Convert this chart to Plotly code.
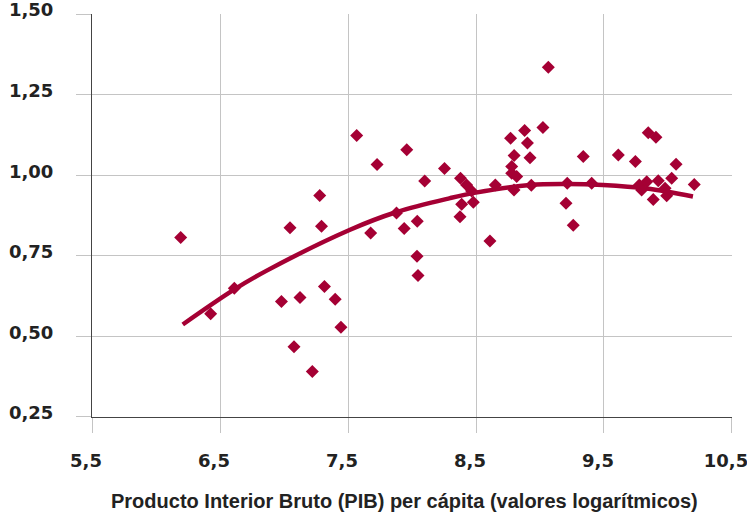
import plotly.graph_objects as go

# Scatter data: log GDP per capita (x) vs index (y)
pib_log = [6.193, 6.427, 6.612, 6.980, 7.047, 7.078, 7.125, 7.221, 7.279, 7.293,
           7.316, 7.400, 7.445, 7.568, 7.677, 7.727, 7.879, 7.939, 7.959, 8.041,
           8.039, 8.047, 8.099, 8.254, 8.379, 8.427, 8.466, 8.388, 8.479, 8.375,
           8.609, 8.651, 8.770, 8.880, 8.902, 9.023, 8.798, 8.922, 8.779, 8.779,
           8.818, 8.797, 8.932, 9.065, 9.213, 9.203, 9.260, 9.338, 9.404, 9.612,
           9.745, 9.846, 9.906, 10.063, 10.205, 9.776, 9.834, 9.924, 10.029, 9.885,
           9.990, 9.977, 9.794]
indice = [0.807, 0.570, 0.649, 0.608, 0.837, 0.468, 0.621, 0.391, 0.937, 0.842,
          0.655, 0.615, 0.528, 1.123, 0.821, 1.033, 0.883, 0.835, 1.079, 0.857,
          0.749, 0.689, 0.982, 1.021, 0.991, 0.970, 0.951, 0.910, 0.916, 0.871,
          0.796, 0.970, 1.115, 1.139, 1.100, 1.148, 1.061, 1.054, 1.027, 1.006,
          0.996, 0.954, 0.969, 1.335, 0.975, 0.913, 0.845, 1.058, 0.975, 1.063,
          1.043, 1.132, 1.118, 1.034, 0.971, 0.970, 0.980, 0.983, 0.991, 0.925,
          0.936, 0.960, 0.954]

# Trend curve
tend_x = [6.209, 6.609, 6.865, 7.516, 7.880, 8.297, 8.498, 8.922, 9.209, 9.492, 9.834, 10.195]
tend_y = [0.537, 0.645, 0.704, 0.831, 0.886, 0.929, 0.946, 0.970, 0.973, 0.970, 0.959, 0.934]

x_ticks = [5.5, 6.5, 7.5, 8.5, 9.5, 10.5]
y_ticks = [0.25, 0.50, 0.75, 1.00, 1.25, 1.50]
x_title = "Producto Interior Bruto (PIB) per cápita (valores logarítmicos)"

RED = "#A50034"
GRID = "#c4c4c4"

fig = go.Figure()
fig.add_trace(go.Scatter(
    x=pib_log, y=indice, mode="markers",
    marker=dict(symbol="diamond", size=10, color=RED, line=dict(width=0)),
    showlegend=False, hoverinfo="skip"))
fig.add_trace(go.Scatter(
    x=tend_x, y=tend_y, mode="lines",
    line=dict(color=RED, width=4.5, shape="spline"),
    showlegend=False, hoverinfo="skip"))

tick_font = dict(family="DejaVu Sans", size=18, color="#222222", weight="bold")

fig.update_layout(
    width=747, height=512,
    margin=dict(l=92, r=15, t=14, b=95, autoexpand=False),
    paper_bgcolor="white", plot_bgcolor="white",
    separators=",.",
    xaxis=dict(
        range=[5.4999, 10.5001], tickvals=x_ticks, tickformat=".1f",
        showgrid=True, gridcolor=GRID, gridwidth=1.3,
        ticks="outside", ticklen=15, tickcolor=GRID, tickwidth=1.3,
        showline=True, linecolor="#444444", linewidth=1,
        zeroline=False, tickfont=tick_font, automargin=False,
        ticklabelstandoff=12, ticklabelshift=-6, ticklabeloverflow="allow",
    ),
    yaxis=dict(
        range=[0.2499, 1.5003], tickvals=y_ticks, tickformat=".2f",
        showgrid=True, gridcolor=GRID, gridwidth=1.3,
        ticks="outside", ticklen=15, tickcolor=GRID, tickwidth=1.3,
        showline=True, linecolor="#444444", linewidth=1,
        zeroline=False, tickfont=tick_font, automargin=False,
        ticklabelstandoff=19, ticklabelshift=-4, ticklabeloverflow="allow",
    ),
    annotations=[dict(
        text="<b>" + x_title + "</b>", xref="paper", yref="paper",
        x=0.5, y=0, xanchor="center", yanchor="middle",
        xshift=-8, yshift=-84, showarrow=False,
        font=dict(family="Liberation Sans", size=20, color="#222222"),
    )],
)

fig.write_html("out.html", config={"displayModeBar": False},
               post_script="document.body.style.margin='0';document.body.style.overflow='hidden';")
